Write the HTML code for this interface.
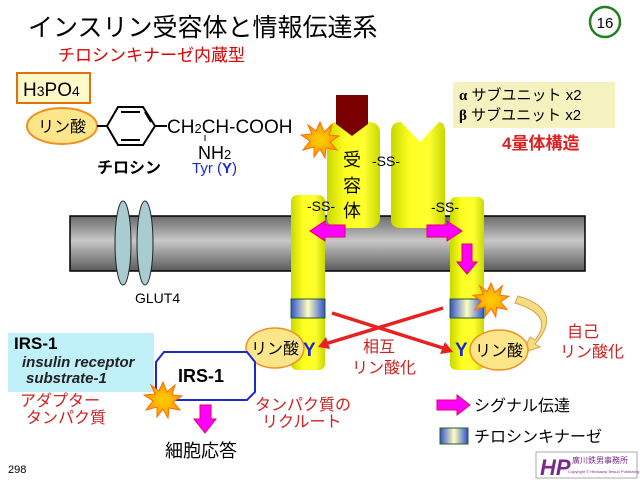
<!DOCTYPE html>
<html><head><meta charset="utf-8"><style>
html,body{margin:0;padding:0;background:#fff;}
svg{display:block;font-family:"Liberation Sans","Noto Sans CJK JP",sans-serif;}
</style></head><body>
<svg width="640" height="480" viewBox="0 0 640 480" xmlns="http://www.w3.org/2000/svg">
<defs>
<linearGradient id="mem" x1="0" y1="0" x2="0" y2="1">
<stop offset="0" stop-color="#6a6a6a"/><stop offset="0.45" stop-color="#c8c8c8"/><stop offset="1" stop-color="#5a5a5a"/></linearGradient>
<linearGradient id="yel" x1="0" y1="0" x2="1" y2="0">
<stop offset="0" stop-color="#c8d800"/><stop offset="0.35" stop-color="#ffff20"/><stop offset="0.7" stop-color="#ffff30"/><stop offset="1" stop-color="#c8d800"/></linearGradient>
<linearGradient id="tk" x1="0" y1="0" x2="1" y2="0">
<stop offset="0" stop-color="#3050d0"/><stop offset="0.5" stop-color="#ffffc0"/><stop offset="1" stop-color="#3050d0"/></linearGradient>
<radialGradient id="star"><stop offset="0" stop-color="#ffd000"/><stop offset="1" stop-color="#ff9800"/></radialGradient>
<symbol id="burst" viewBox="-20 -20 40 40">
<polygon points="0,-18 4,-8 12,-15 9,-5 19,-4 10,2 17,10 6,8 5,18 0,9 -6,17 -6,7 -17,10 -10,1 -19,-5 -8,-6 -12,-15 -4,-9" fill="url(#star)" stroke="#ff6a00" stroke-width="1"/>
</symbol>
</defs>

<text x="28" y="36" font-size="25">インスリン受容体と情報伝達系</text>
<text x="58" y="61" font-size="17" fill="#e00000">チロシンキナーゼ内蔵型</text>
<circle cx="605" cy="22" r="15" fill="#fff" stroke="#208020" stroke-width="2.5"/>
<text x="605" y="28" font-size="15" text-anchor="middle">16</text>

<rect x="17" y="73" width="73" height="30" fill="#fff8c8" stroke="#e07010" stroke-width="2"/>
<text x="23" y="96" font-size="19">H<tspan font-size="14">3</tspan>PO<tspan font-size="14">4</tspan></text>
<ellipse cx="62" cy="126" rx="35" ry="18" fill="#fde68a" stroke="#f09020" stroke-width="2"/>
<text x="62" y="132" font-size="16" text-anchor="middle">リン酸</text>
<line x1="97" y1="126" x2="107" y2="126" stroke="#000" stroke-width="2"/>
<polygon points="107,126 118,107 143,107 155,126 143,145 118,145" fill="none" stroke="#000" stroke-width="2"/>
<line x1="121" y1="112" x2="140" y2="112" stroke="#000" stroke-width="2"/>
<line x1="121" y1="140" x2="140" y2="140" stroke="#000" stroke-width="2"/>
<line x1="145" y1="112" x2="151" y2="122" stroke="#000" stroke-width="2"/>
<line x1="155" y1="126" x2="167" y2="126" stroke="#000" stroke-width="2"/>
<text x="167" y="133" font-size="19">CH<tspan font-size="13">2</tspan>CH-COOH</text>
<line x1="205" y1="135" x2="205" y2="141" stroke="#000" stroke-width="1"/>
<text x="198" y="159" font-size="18">NH<tspan font-size="13">2</tspan></text>
<text x="97" y="173" font-size="16" font-weight="bold">チロシン</text>
<text x="192" y="173" font-size="15" fill="#1a2ad0">Tyr (<tspan font-weight="bold">Y</tspan>)</text>

<rect x="453" y="82" width="162" height="46" fill="#f5f2c0"/>
<text x="459" y="100" font-size="15"><tspan font-weight="bold" font-family="Liberation Serif">α</tspan> サブユニット x2</text>
<text x="459" y="120" font-size="15"><tspan font-weight="bold" font-family="Liberation Serif">β</tspan> サブユニット x2</text>
<text x="502" y="149" font-size="17" font-weight="bold" fill="#e02020">4量体構造</text>

<rect x="70" y="216" width="515" height="55" fill="url(#mem)" stroke="#000" stroke-width="1.5"/>
<ellipse cx="123" cy="243" rx="8" ry="42" fill="#a8ccd0" stroke="#222" stroke-width="1"/>
<ellipse cx="145" cy="243" rx="8" ry="42" fill="#a8ccd0" stroke="#222" stroke-width="1"/>
<text x="135" y="303" font-size="14">GLUT4</text>

<rect x="291" y="195" width="34" height="175" rx="6" fill="url(#yel)"/>
<rect x="450" y="197" width="34" height="173" rx="6" fill="url(#yel)"/>
<rect x="327" y="122" width="53" height="106" rx="10" fill="url(#yel)"/>
<path d="M401,122 L420,142 L439,122 Q445,122 445,132 L445,220 Q445,228 435,228 L401,228 Q391,228 391,220 L391,132 Q391,122 401,122 Z" fill="url(#yel)"/>
<polygon points="336,95 368,95 368,124 352,136 336,124" fill="#7a0000"/>
<rect x="291" y="299" width="34" height="19" fill="url(#tk)" stroke="#206020"/>
<rect x="450" y="299" width="34" height="19" fill="url(#tk)" stroke="#206020"/>

<text x="343" y="166" font-size="18">受</text>
<text x="343" y="192" font-size="18">容</text>
<text x="343" y="217" font-size="18">体</text>
<text x="372" y="166" font-size="14">-SS-</text>
<text x="307" y="211" font-size="14">-SS-</text>
<text x="431" y="212" font-size="14">-SS-</text>

<polygon points="345,225 325,225 325,221 310,231 325,241 325,237 345,237" fill="#ff00ff" stroke="#e00060"/>
<polygon points="427,225 447,225 447,221 462,231 447,241 447,237 427,237" fill="#ff00ff" stroke="#e00060"/>
<polygon points="462,244 472,244 472,262 477,262 467,274 457,262 462,262" fill="#ff00ff" stroke="#e00060"/>

<use href="#burst" x="300" y="120" width="40" height="40"/>
<use href="#burst" x="472" y="281" width="38" height="38"/>

<line x1="332" y1="313" x2="446" y2="349" stroke="#e82020" stroke-width="3.5"/>
<polygon points="453,352 440,354 445,342" fill="#e82020"/>
<line x1="443" y1="308" x2="325" y2="344" stroke="#e82020" stroke-width="3.5"/>
<polygon points="318,347 326,337 330,349" fill="#e82020"/>

<path d="M515,303 Q555,315 535,340 L530,337 L522,353 L540,347 L535,344 Q565,310 518,296 Z" fill="#f5dc80" stroke="#d8a050" stroke-width="1"/>

<ellipse cx="275" cy="348" rx="29" ry="20" fill="#fde68a" stroke="#f09020" stroke-width="1.5"/>
<text x="275" y="354" font-size="16" text-anchor="middle">リン酸</text>
<text x="303" y="356" font-size="19" font-weight="bold" fill="#1a2ad0">Y</text>
<text x="455" y="356" font-size="19" font-weight="bold" fill="#1a2ad0">Y</text>
<ellipse cx="499" cy="350" rx="29" ry="20" fill="#fde68a" stroke="#f09020" stroke-width="1.5"/>
<text x="499" y="356" font-size="16" text-anchor="middle">リン酸</text>

<text x="363" y="352" font-size="16" fill="#d02020">相互</text>
<text x="352" y="373" font-size="16" fill="#d02020">リン酸化</text>
<text x="567" y="337" font-size="16" fill="#d02020">自己</text>
<text x="560" y="357" font-size="16" fill="#d02020">リン酸化</text>

<polygon points="164,352 247,352 255,362 255,392 247,400 164,400 156,392 156,362" fill="#fff" stroke="#1a2ad0" stroke-width="2"/>
<rect x="8" y="333" width="146" height="59" fill="#c0f0f8"/>
<text x="14" y="349" font-size="17" font-weight="bold">IRS-1</text>
<text x="22" y="367" font-size="15" font-style="italic" font-weight="bold" fill="#222">insulin receptor</text>
<text x="26" y="383" font-size="15" font-style="italic" font-weight="bold" fill="#222">substrate-1</text>
<text x="178" y="382" font-size="18" font-weight="bold">IRS-1</text>
<use href="#burst" x="143" y="380" width="40" height="40"/>
<text x="20" y="406" font-size="16" fill="#d02020">アダプター</text>
<text x="26" y="423" font-size="16" fill="#d02020">タンパク質</text>
<text x="255" y="410" font-size="16" fill="#d02020">タンパク質の</text>
<text x="262" y="427" font-size="16" fill="#d02020">リクルート</text>
<polygon points="200,405 211,405 211,419 216,419 205,433 194,419 200,419" fill="#ff00ff" stroke="#e00060"/>
<text x="165" y="457" font-size="18">細胞応答</text>
<text x="8" y="473" font-size="11">298</text>

<polygon points="437,400 457,400 457,395 470,405 457,415 457,410 437,410" fill="#ff00ff" stroke="#e00060"/>
<text x="474" y="411" font-size="16">シグナル伝達</text>
<rect x="440" y="428" width="28" height="16" fill="url(#tk)" stroke="#206020"/>
<text x="474" y="442" font-size="16">チロシンキナーゼ</text>

<rect x="536" y="452" width="101" height="26" fill="#fff" stroke="#aaa"/>
<text x="540" y="475" font-size="22" font-weight="bold" font-style="italic" fill="#7a2a8a">HP</text>
<text x="572" y="463" font-size="8" fill="#7a2a8a">廣川鉄男事務所</text>
<text x="568" y="473" font-size="4" fill="#7a2a8a">Copyright © Hirokawa Tetsuo Publishing INC.</text>
</svg>
</body></html>
